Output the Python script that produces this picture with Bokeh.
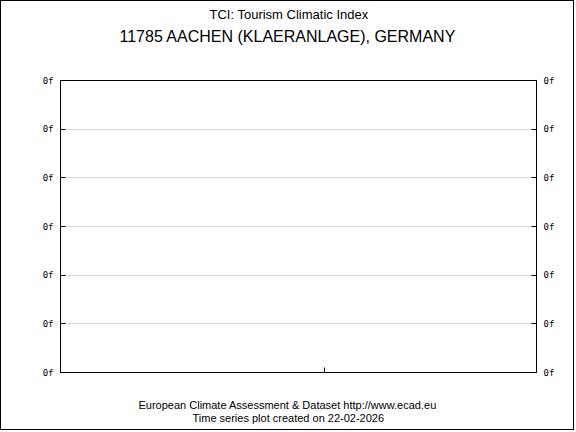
from bokeh.plotting import figure
from bokeh.models import Range1d, LinearAxis, FixedTicker, Title
from bokeh.embed import file_html
from bokeh.resources import INLINE

title_text = "TCI: Tourism Climatic Index"
subtitle_text = "11785 AACHEN (KLAERANLAGE), GERMANY"
footer1_text = "European Climate Assessment & Dataset  http://www.ecad.eu"
footer2_text = "Time series plot created on 22-02-2026"

y_ticks = [0, 1, 2, 3, 4, 5, 6]
y_tick_labels = ["0f", "0f", "0f", "0f", "0f", "0f", "0f"]
x_ticks = [0.555]
x_tick_labels = [""]

p = figure(width=574, height=430, output_backend="svg", toolbar_location=None,
           x_range=Range1d(0, 1), y_range=Range1d(0, 6), title=None,
           min_border_left=59, min_border_right=39, min_border_top=79,
           min_border_bottom=59, background_fill_color="white",
           border_fill_color="white")
p.styles = {"border": "1px solid black"}
p.outline_line_color = "black"
p.outline_line_width = 1

font = "Liberation Sans"

def style_axis(ax, ticks, labels):
    ax.ticker = FixedTicker(ticks=ticks)
    ax.major_label_overrides = {t: l for t, l in zip(ticks, labels)}
    ax.major_tick_in = 5
    ax.major_tick_out = 0
    ax.minor_tick_in = 0
    ax.minor_tick_out = 0
    ax.axis_line_color = "black"
    ax.major_tick_line_color = "black"
    ax.major_label_text_color = "black"
    ax.major_label_text_font = "DejaVu Sans Mono"
    ax.major_label_text_font_size = "9px"
    ax.major_label_standoff = 7

style_axis(p.yaxis[0], y_ticks, y_tick_labels)
style_axis(p.xaxis[0], x_ticks, x_tick_labels)
p.xaxis[0].major_label_standoff = 0
p.xaxis[0].major_label_text_font_size = "1px"

ry = LinearAxis()
style_axis(ry, y_ticks, y_tick_labels)
p.add_layout(ry, "right")

p.xgrid.visible = False
p.ygrid.ticker = FixedTicker(ticks=y_ticks)
p.ygrid.grid_line_color = "#d8d8d8"

def make_title(text, size, standoff, offset=0, align="left"):
    return Title(text=text, align=align, offset=offset, text_font=font,
                 text_color="black", text_font_size=size,
                 text_font_style="normal", standoff=standoff)

# above: nearest to frame first
p.add_layout(make_title(" ", "10px", 21, align="center"), "above")
p.add_layout(make_title(subtitle_text, "16px", 4, offset=59), "above")
p.add_layout(make_title(title_text, "13px", 4, offset=149), "above")

# below: nearest to frame first
p.add_layout(make_title(" ", "10px", 10, align="center"), "below")
p.add_layout(make_title(footer1_text, "11px", 2, offset=78), "below")
p.add_layout(make_title(footer2_text, "11px", -4, offset=132), "below")

open("out.html", "w").write(file_html(p, INLINE))
